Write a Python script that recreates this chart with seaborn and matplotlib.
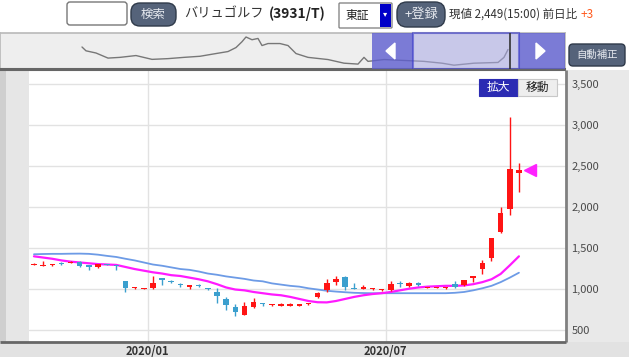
import pandas as pd
import seaborn as sns
import matplotlib.pyplot as plt
from matplotlib.patches import FancyBboxPatch, Rectangle, Polygon

# weekly candles (yen)
week_start = "2019-10-06"
opens = [1295, 1285, 1290, 1310, 1320, 1330, 1290, 1265, 1300, 1295,
         1100, 1015, 1005, 1010, 1135, 1095, 1065, 1025, 1045, 1005,
         960, 885, 785, 690, 785, 820, 805, 800, 800, 800,
         815, 900, 990, 1090, 1150, 1015, 1005, 1000, 985, 985,
         1065, 1035, 1080, 1015, 1015, 1010, 1060, 1055, 1140, 1245,
         1375, 1700, 1975, 2415]
highs = [1320, 1340, 1305, 1325, 1345, 1340, 1295, 1310, 1310, 1300,
         1105, 1030, 1015, 1165, 1140, 1110, 1070, 1055, 1060, 1010,
         1010, 900, 815, 840, 890, 835, 820, 825, 825, 810,
         835, 960, 1120, 1160, 1155, 1075, 1050, 1015, 1000, 1100,
         1095, 1085, 1085, 1030, 1030, 1030, 1100, 1115, 1165, 1360,
         1625, 2005, 3095, 2540]
lows = [1290, 1280, 1285, 1290, 1315, 1275, 1235, 1260, 1290, 1230,
        965, 1005, 1000, 1000, 1055, 1080, 1030, 1000, 1030, 995,
        830, 745, 670, 680, 775, 800, 800, 790, 790, 795,
        810, 895, 960, 1050, 990, 1000, 1000, 995, 980, 975,
        1030, 1030, 1040, 1010, 1010, 1000, 1015, 1040, 1090, 1190,
        1340, 1690, 1900, 2190]
closes = [1310, 1295, 1300, 1305, 1335, 1285, 1270, 1305, 1295, 1285,
          1010, 1022, 1012, 1080, 1115, 1088, 1045, 1050, 1035, 998,
          910, 805, 715, 795, 845, 815, 812, 808, 808, 808,
          832, 955, 1070, 1120, 1020, 1005, 1030, 1010, 995, 1060,
          1058, 1080, 1045, 1025, 1025, 1020, 1020, 1110, 1160, 1315,
          1620, 1930, 2460, 2449]
ma13 = [1400, 1385, 1370, 1350, 1335, 1325, 1315, 1305, 1300, 1295,
        1270, 1245, 1225, 1205, 1190, 1170, 1160, 1140, 1120, 1095,
        1060, 1020, 995, 985, 965, 950, 935, 925, 905, 880,
        855, 840, 838, 855, 880, 905, 925, 940, 950, 965,
        985, 1005, 1020, 1030, 1035, 1040, 1040, 1045, 1060, 1085,
        1120, 1185, 1290, 1400]
ma26 = [1425, 1428, 1430, 1430, 1432, 1433, 1430, 1420, 1405, 1392,
        1370, 1350, 1325, 1300, 1285, 1265, 1245, 1235, 1215, 1190,
        1175, 1155, 1140, 1125, 1105, 1095, 1070, 1055, 1040, 1030,
        1010, 995, 980, 970, 962, 955, 952, 950, 950, 950,
        950, 950, 950, 950, 950, 950, 955, 965, 985, 1010,
        1040, 1085, 1140, 1200]
last_price = 2449
y_ticks = [500, 1000, 1500, 2000, 2500, 3000, 3500]
x_ticks = ["2020-01-01", "2020-07-01"]
x_tick_labels = ["2020/01", "2020/07"]

# navigator history line
nav_week = [41, 43, 48, 54, 60, 68, 76, 84, 92, 100, 108, 114, 118, 121, 123,
            126, 129, 131, 134, 140, 144, 148, 154, 164, 172, 179, 182, 184,
            192, 200, 212, 221, 227, 237, 249, 252, 254]
nav_price = [1475, 1370, 1310, 1170, 1190, 1240, 1135, 1155, 1190, 1220,
             1295, 1350, 1460, 1620, 1750, 1675, 1710, 1515, 1570, 1570,
             1515, 1295, 1190, 1130, 1030, 1005, 1190, 1080, 1130, 1110,
             1080, 1030, 975, 1030, 1050, 1190, 1405]

dates = pd.date_range(week_start, periods=len(opens), freq="7D")
df = pd.DataFrame({"date": dates, "open": opens, "high": highs, "low": lows,
                   "close": closes, "ma13": ma13, "ma26": ma26})

sns.set_theme(style="white")
plt.rcParams["font.family"] = ["Noto Sans CJK JP", "DejaVu Sans"]

W, H = 629, 357
fig = plt.figure(figsize=(W / 100, H / 100), dpi=100, facecolor="white")


def fpos(x0, y0, x1, y1):
    return [x0 / W, 1 - y1 / H, (x1 - x0) / W, (y1 - y0) / H]


# background panels (pixel coords)
bg = fig.add_axes([0, 0, 1, 1], zorder=-1)
bg.set_xlim(0, W)
bg.set_ylim(H, 0)
bg.axis("off")
bg.add_patch(Rectangle((0, 70), 29, 272, color="#e6e6e6", lw=0))
bg.add_patch(Rectangle((0, 70), 6, 272, color="#cfcfcf", lw=0))
bg.add_patch(Rectangle((566, 70), 63, 272, color="#e9e9e9", lw=0))
bg.add_patch(Rectangle((0, 342), W, 15, color="#e2e2e2", lw=0))

# main chart
ax = fig.add_axes(fpos(29, 71, 566, 342), zorder=1)
ax.set_facecolor("white")

red, blue = "#ff1414", "#3b9fce"
up = df["close"] >= df["open"]
colors = [red if u else blue for u in up]
body_w = pd.Timedelta(days=4.2)

sns.lineplot(data=df, x="date", y="ma26", color="#6d9be6", lw=1.3, ax=ax, zorder=3)
sns.lineplot(data=df, x="date", y="ma13", color="#ff1aff", lw=1.6, ax=ax, zorder=3)

ax.vlines(df["date"], df["low"], df["high"], colors=colors, lw=1, zorder=4)
bottoms = df[["open", "close"]].min(axis=1)
heights = (df["close"] - df["open"]).abs().clip(lower=14)
ax.bar(df["date"], heights, bottom=bottoms, width=body_w, color=colors,
       lw=0, zorder=5)

ax.plot(df["date"].iloc[-1] + pd.Timedelta(days=8.5), last_price, marker="<",
        color="#ff22ff", ms=8, ls="none", zorder=6, clip_on=False)

ax.set_xlim(dates[0] - pd.Timedelta(days=3.8), dates[0] + pd.Timedelta(days=407))
ax.set_ylim(355, 3660)
ax.set_yticks(y_ticks)
ax.set_yticklabels([f"{v:,}" for v in y_ticks])
ax.yaxis.tick_right()
ax.set_xticks(pd.to_datetime(x_ticks))
ax.set_xticklabels(x_tick_labels)
ax.tick_params(axis="y", length=0, pad=4, labelsize=8, labelcolor="#4a4a4a")
ax.tick_params(axis="x", length=0, pad=2, labelsize=8, labelcolor="#333333")
for t in ax.get_xticklabels():
    t.set_fontweight("bold")
ax.grid(True, color="#e2e2e2", lw=1)
ax.set_xlabel("")
ax.set_ylabel("")
for s in ax.spines.values():
    s.set_visible(False)

# navigator
nav = fig.add_axes(fpos(0, 33, 565, 69), zorder=1)
nav.set_facecolor("#eeeeee")
nav.plot(nav_week, nav_price, color="#777777", lw=1)
nav.set_xlim(0, 282.5)
nav.set_ylim(870, 1860)
nav.set_xticks([])
nav.set_yticks([])
for s in nav.spines.values():
    s.set_color("#bbbbbb")
nav.spines["bottom"].set_color("#666666")
nav.spines["bottom"].set_linewidth(1.5)

# foreground UI (pixel coords)
ui = fig.add_axes([0, 0, 1, 1], zorder=10)
ui.set_xlim(0, W)
ui.set_ylim(H, 0)
ui.axis("off")
ui.patch.set_alpha(0)


def button(x0, y0, x1, y1, fc, ec, r=4, lw=1, alpha=1):
    ui.add_patch(FancyBboxPatch((x0, y0), x1 - x0, y1 - y0,
                                boxstyle=f"round,pad=0,rounding_size={r}",
                                fc=fc, ec=ec, lw=lw, alpha=alpha))


# header
button(67, 2, 127, 25, "white", "#777777", r=3)
button(131, 3, 176, 26, "#55637a", "#2f3a4a", r=9)
ui.text(153.5, 14.5, "検索", color="#e6e9ef", fontsize=9, ha="center", va="center")
title = ui.text(184, 14, "バリュゴルフ", color="#333333", fontsize=9.5,
                ha="left", va="center")
ui.annotate("(3931/T)", xy=(1, 0.5), xycoords=title, xytext=(4, 0),
            textcoords="offset points", color="#222222", fontsize=10,
            fontweight="bold", ha="left", va="center")
button(339, 3, 392, 28, "white", "#888888", r=1)
ui.text(346, 15, "東証", color="#222222", fontsize=8.5, ha="left", va="center")
ui.add_patch(Rectangle((380, 4), 11, 23, color="#0000c8", lw=0))
ui.text(385.5, 14, "▾", color="white", fontsize=6, ha="center", va="center")
button(397, 2, 445, 27, "#55637a", "#2f3a4a", r=10)
ui.text(421, 14.5, "+登録", color="#e6e9ef", fontsize=9.5, ha="center", va="center")
price_txt = ui.text(449, 14, "現値 2,449(15:00) 前日比", color="#333333",
                    fontsize=8.3, ha="left", va="center")
ui.annotate("+3", xy=(1, 0.5), xycoords=price_txt, xytext=(2.5, 0),
            textcoords="offset points", color="#ff5a1e", fontsize=8.5,
            ha="left", va="center")

# navigator overlay
ui.add_patch(Rectangle((372, 33), 41, 36, fc="#5f5fd0", alpha=0.8, lw=0))
ui.add_patch(Rectangle((519, 33), 41, 36, fc="#5f5fd0", alpha=0.8, lw=0))
ui.add_patch(Rectangle((413, 33), 106, 36, fc="#a9a9e6", ec="#3535c8",
                       alpha=0.55, lw=1.5))
ui.add_patch(Rectangle((560, 33), 5, 36, fc="#5f5fd0", alpha=0.8, lw=0))
ui.vlines(510, 33, 69, color="#333333", lw=1.2)
ui.add_patch(Polygon([[386, 51], [395, 43], [395, 59]], color="white"))
ui.add_patch(Polygon([[545, 51], [536, 43], [536, 59]], color="white"))
button(569, 44, 625, 66, "#55637a", "#2f3a4a", r=4)
ui.text(597, 55, "自動補正", color="#e6e9ef", fontsize=7.5, ha="center", va="center")

# frame lines
ui.hlines(70, 0, 566, color="#666666", lw=1.5)
ui.vlines(566, 70, 342, color="#808080", lw=2)
ui.hlines(342, 0, 566, color="#666666", lw=2)

# zoom / move buttons
ui.add_patch(Rectangle((479, 79), 39, 17, fc="#2b2bb3", ec="#2b2bb3", lw=0.8))
ui.add_patch(Rectangle((518, 79), 39, 17, fc="#eeeeee", ec="#c8c8c8", lw=0.8))
ui.text(498.5, 87.5, "拡大", color="white", fontsize=8.5, ha="center", va="center")
ui.text(537.5, 87.5, "移動", color="#222222", fontsize=8.5, ha="center", va="center")

fig.savefig("out.png", dpi=100, facecolor="white")
